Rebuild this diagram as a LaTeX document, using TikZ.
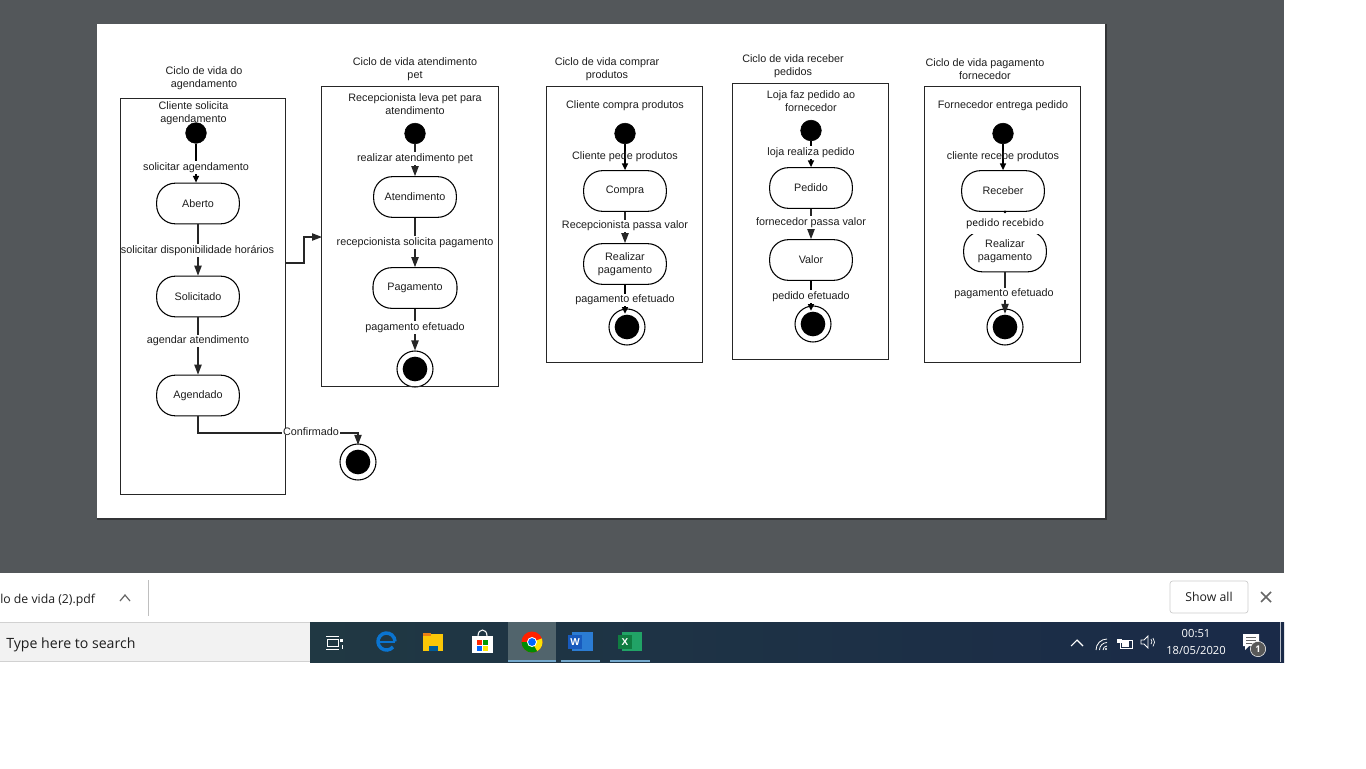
\documentclass[tikz,border=0pt]{standalone}
\usepackage{fontspec}
\setmainfont{Liberation Sans}
\newfontfamily\uifont{Open Sans}
\usetikzlibrary{arrows.meta,shapes.misc}
\definecolor{pagegrey}{HTML}{53575A}
\definecolor{inktext}{HTML}{1E1E1E}
\definecolor{barL}{HTML}{203843}
\definecolor{barR}{HTML}{1A2A48}
\definecolor{traybluegrey}{HTML}{74A8CC}
\definecolor{wordlight}{HTML}{2B7CD3}
\definecolor{worddark}{HTML}{185ABD}
\definecolor{excellight}{HTML}{21A366}
\definecolor{exceldark}{HTML}{107C41}
\definecolor{edgeblue}{HTML}{0A74D0}
\tikzset{
  x=0.75pt,y=-0.75pt,
  every node/.style={font=\fontsize{8.1}{9.75}\selectfont,text=inktext,inner sep=0pt},
  lane/.style={draw=black!85,line width=0.8pt,xshift=-0.2pt,yshift=0.2pt},
  title/.style={align=center},
  state/.style={draw=black,fill=white,line width=0.8pt,rectangle,rounded corners=14pt,minimum width=62pt,minimum height=30.5pt,align=center},
  startdot/.style={circle,fill=black,draw=black,minimum size=15.5pt},
  finalout/.style={circle,draw=black,fill=white,line width=0.8pt,minimum size=27pt},
  finalin/.style={circle,fill=black,minimum size=18.5pt},
  flow/.style={draw=black!85,line width=0.9pt,-{Triangle[length=7.5pt,width=5.5pt]}},
  smallflow/.style={draw=black,line width=1.1pt,-{Triangle[length=5pt,width=4.5pt]}},
  edgelabel/.style={fill=white,inner xsep=0.5pt,inner ysep=1pt,yshift=-1.1pt},
  ui/.style={font=\uifont\fontsize{9.2}{11}\selectfont},
  tray/.style={font=\uifont\fontsize{8.4}{10}\selectfont,text=white},
}
\begin{document}
\begin{tikzpicture}
\useasboundingbox (0,0) rectangle (1366,768);
\fill[white] (0,0) rectangle (1366,768);
% window background
\fill[pagegrey] (0,0) rectangle (1284,573);
\fill[black!40!pagegrey] (96.5,24) rectangle (1106.5,519.5);
\fill[white] (97,24) rectangle (1105,518);

% ---- Diagram 1
\node[title] (titleA) at (204,78.5) {Ciclo de vida do\\agendamento};
\node[title] (noteA) at (193.5,113.5) {Cliente solicita\\agendamento};
\node[state] (aberto) at (198,203.5) {Aberto};
\node[state] (solicitado) at (198,296.5) {Solicitado};
\node[state] (agendado) at (198,395.5) {Agendado};
\node[startdot] (startA) at (196,133) {};
\node[finalout] (finalA) at (358,462) {};
\node[finalin] (finalAi) at (358,462) {};
\coordinate (outA) at (286,263);
\coordinate (inB) at (322,237);
\coordinate (viaA) at (304,263);
\coordinate (viaB) at (304,237);
\coordinate (bendA) at (198,433);
\coordinate (bendB) at (358,433);
\draw[smallflow] (startA.south) -- (startA.south |- aberto.north);
\draw[flow] (aberto.south) -- (solicitado.north);
\draw[flow] (solicitado.south) -- (agendado.north);
\draw[flow,shorten >=-1pt] (agendado.south) -- (bendA) -- (bendB) -- (finalA.north);
\draw[flow] (outA) -- (viaA) -- (viaB) -- (inB);
\node[edgelabel] (lA1) at (196,166) {solicitar agendamento};
\node[edgelabel] (lA2) at (197.5,249) {solicitar disponibilidade horários};
\node[edgelabel] (lA3) at (198,339.5) {agendar atendimento};
\node[lane,minimum width=123.75pt,minimum height=297pt] (boxA) at (203.5,297) {};
\node[fill=white,inner xsep=0.5pt,inner ysep=0pt] (conf) at (311,431.5) {Confirmado};

% ---- Diagram 2
\node[title] (titleB) at (415,69) {Ciclo de vida atendimento\\pet};
\node[title] (noteB) at (415,104.5) {Recepcionista leva pet para\\atendimento};
\node[state] (atend) at (415,197) {Atendimento};
\node[state,minimum width=63pt] (pagB) at (415,288) {Pagamento};
\node[startdot] (startB) at (415,133.5) {};
\node[finalout] (finalB) at (415,369) {};
\node[finalin] (finalBi) at (415,369) {};
\draw[flow] (startB.south) -- (atend.north);
\draw[flow] (atend.south) -- (pagB.north);
\draw[flow] (pagB.south) -- (finalB.north);
\node[edgelabel] (lB1) at (415,157) {realizar atendimento pet};
\node[edgelabel] (lB2) at (415,241) {recepcionista solicita pagamento};
\node[edgelabel] (lB3) at (415,326) {pagamento efetuado};
\node[lane,minimum width=132.75pt,minimum height=225pt] (boxB) at (410.5,237) {};

% ---- Diagram 3
\node[title] (titleC) at (607,69) {Ciclo de vida comprar\\produtos};
\node (noteC) at (625,106) {Cliente compra produtos};
\node[state] (compra) at (625,191) {Compra};
\node[state] (realC) at (625,264) {Realizar\\pagamento};
\node[startdot] (startC) at (625,133.5) {};
\node[finalout] (finalC) at (627,327) {};
\node[finalin] (finalCi) at (627,327) {};
\draw[smallflow] (startC.south) -- (compra.north);
\draw[flow] (compra.south) -- (realC.north);
\draw[smallflow,shorten >=-4pt] (realC.south) -- (realC.south |- finalC.north);
\node[edgelabel,fill=none] (lC1) at (625,155) {Cliente pede produtos};
\node[edgelabel] (lC2) at (625,224.5) {Recepcionista passa valor};
\node[edgelabel] (lC3) at (625,298.5) {pagamento efetuado};
\node[lane,minimum width=117pt,minimum height=207pt] (boxC) at (625,225) {};

% ---- Diagram 4
\node[title] (titleD) at (793,66) {Ciclo de vida receber\\pedidos};
\node[title] (noteD) at (811,101.5) {Loja faz pedido ao\\fornecedor};
\node[state] (pedido) at (811,188) {Pedido};
\node[state] (valor) at (811,260) {Valor};
\node[startdot] (startD) at (811,130.5) {};
\node[finalout] (finalD) at (813,324) {};
\node[finalin] (finalDi) at (813,324) {};
\draw[smallflow] (startD.south) -- (pedido.north);
\draw[flow] (pedido.south) -- (valor.north);
\draw[smallflow,shorten >=-4pt] (valor.south) -- (valor.south |- finalD.north);
\node[edgelabel] (lD1) at (811,151) {loja realiza pedido};
\node[edgelabel] (lD2) at (811,221) {fornecedor passa valor};
\node[edgelabel] (lD3) at (811,295) {pedido efetuado};
\node[lane,minimum width=117pt,minimum height=207pt] (boxD) at (811,222) {};

% ---- Diagram 5
\node[title] (titleE) at (985,69) {Ciclo de vida pagamento\\fornecedor};
\node (noteE) at (1003,106) {Fornecedor entrega pedido};
\node[state] (receber) at (1003,191) {Receber};
\node[state] (realE) at (1005,251.5) {Realizar\\pagamento};
\node[startdot] (startE) at (1003,133.5) {};
\node[finalout] (finalE) at (1005,327) {};
\node[finalin] (finalEi) at (1005,327) {};
\draw[smallflow] (startE.south) -- (receber.north);
\draw[flow,shorten >=-4pt] (realE.south) -- (finalE.north);
\node[edgelabel,fill=none] (lE1) at (1003,155) {cliente recebe produtos};
\node[edgelabel] (lE3) at (1004,292.5) {pagamento efetuado};
\node[fill=white,text=black,minimum width=58pt,minimum height=15pt,font=\uifont\fontsize{7.7}{9}\selectfont] (lbE) at (1005,223.5) {pedido recebido};
\fill[black] (receber.south) ++(2,0) circle (1.6);
\node[lane,minimum width=117pt,minimum height=207pt] (boxE) at (1003,225) {};

% ---- download bar
\node[ui,anchor=west] (dlname) at (0,600) {lo de vida (2).pdf};
\coordinate (chevA) at (120,601);
\coordinate (chevB) at (125,595);
\coordinate (chevC) at (130,601);
\draw[black!60,line width=0.9pt] (chevA) -- (chevB) -- (chevC);
\draw[black!25,line width=0.6pt] (148,580) -- (148,616);
\node[ui,draw=black!20,rounded corners=2pt,minimum width=58.5pt,minimum height=24pt,line width=0.5pt] (showall) at (1209,597) {Show all};
\draw[black!60,line width=1.1pt] (1261,592) -- (1271,602) (1271,592) -- (1261,602);

% ---- taskbar
\fill[black!18] (0,622) rectangle (310,662);
\fill[black!5] (0,623) rectangle (310,661);
\node[anchor=west,font=\uifont\fontsize{10.6}{12}\selectfont] (search) at (6,645) {Type here to search};
\shade[left color=barL,right color=barR] (310,622) rectangle (1284,662);
\fill[white!70!barR] (1280,622) rectangle (1281,662);
\fill[white!22!barL] (508,622) rectangle (556,662);
\fill[traybluegrey] (508,660) rectangle (556,662);
\fill[traybluegrey] (561,660) rectangle (600,662);
\fill[traybluegrey] (610,660) rectangle (650,662);
% task view
\draw[white,line width=0.6pt] (326,636) -- (339,636) (326,649) -- (339,649) (327,639) rectangle (338,646);
\fill[white] (340,639) rectangle (343,642);
\draw[white,line width=0.6pt] (342,645) -- (342,649);
% edge
\draw[edgeblue,line width=2.6pt] (393,647) arc[start angle=40,end angle=360,radius=8.5];
\draw[edgeblue,line width=2.2pt] (378,642) -- (395,642);
% folder
\fill[yellow!60!orange] (423,634) rectangle (443,651);
\fill[orange!70!brown] (423,633) rectangle (431,636);
\fill[blue!40!cyan!60!black] (429,646) rectangle (438,651);
% store
\fill[white] (472,636) rectangle (493,653);
\draw[white,line width=0.8pt] (478,636) .. controls (478,628) and (487,628) .. (487,636);
\fill[red!70!orange] (477,640) rectangle (482,645);
\fill[green!60!black] (483,640) rectangle (488,645);
\fill[blue!60!cyan] (477,646) rectangle (482,651);
\fill[yellow!90!orange] (483,646) rectangle (488,651);
% chrome
\fill[red!75!orange] (532,642) circle (10.5);
\fill[green!55!black] (532,642) -- (521.5,642) arc[start angle=180,end angle=60,radius=10.5] -- cycle;
\fill[yellow!85!orange] (532,642) -- (537.25,651.1) arc[start angle=60,end angle=-20,radius=10.5] -- cycle;
\fill[white] (532,642) circle (5);
\fill[blue!60!cyan] (532,642) circle (3.9);
% word
\fill[wordlight] (572,632) rectangle (593,651);
\fill[worddark] (568,635) rectangle (582,649);
\node[text=white,font=\fontsize{7.5}{9}\selectfont\bfseries] (wordW) at (575,642) {W};
% excel
\fill[excellight] (622,632) rectangle (642,651);
\fill[exceldark] (618,635) rectangle (632,649);
\node[text=white,font=\fontsize{7.5}{9}\selectfont\bfseries] (excelX) at (625,642) {X};
% tray
\draw[white,line width=0.8pt] (1071,646) -- (1077,640) -- (1083,646);
\draw[white,line width=0.6pt] (1096,650) arc[start angle=180,end angle=270,radius=11]
  (1099.5,650) arc[start angle=180,end angle=270,radius=7.5] (1103,650) arc[start angle=180,end angle=270,radius=4];
\fill[white] (1106,649) circle (1.2);
\draw[white,line width=0.6pt] (1120,640) rectangle (1132,648);
\fill[white] (1122,641) rectangle (1129,647);
\fill[white] (1117,639) rectangle (1122,643);
\draw[white,line width=0.6pt] (1141,640) -- (1144,640) -- (1148,636) -- (1148,648) -- (1144,644) -- (1141,644) -- cycle;
\draw[white,line width=0.5pt] (1151,639) arc[start angle=-40,end angle=40,radius=4] (1153,638) arc[start angle=-40,end angle=40,radius=6.5];
\node[tray] (clock) at (1196,634) {00:51};
\node[tray] (date) at (1196,650.5) {18/05/2020};
\fill[white] (1243,634) -- (1259,634) -- (1259,646) -- (1249,646) -- (1245,650) -- (1245,646) -- (1243,646) -- cycle;
\draw[black!60,line width=0.6pt] (1246,637) -- (1256,637) (1246,640) -- (1256,640) (1246,643) -- (1253,643);
\node[circle,fill=black!65,draw=white!70,line width=0.4pt,minimum size=11.5pt,text=white,font=\uifont\fontsize{7}{8}\selectfont\bfseries] (badge) at (1258,649) {1};
\end{tikzpicture}
\end{document}
